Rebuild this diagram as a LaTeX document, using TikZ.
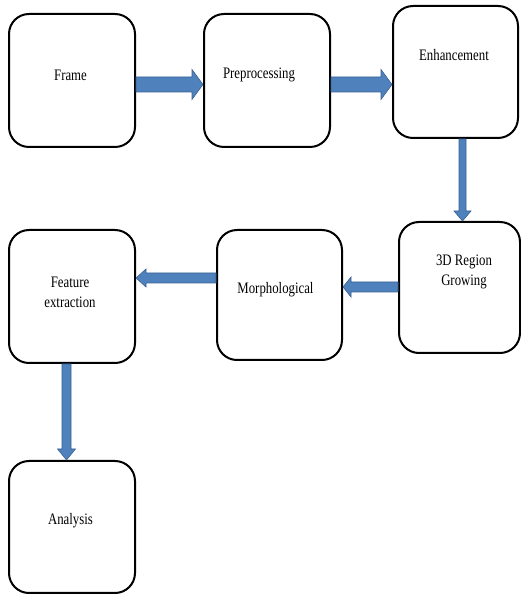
\documentclass[tikz,border=0pt]{standalone}
\usepackage{fontspec}
\setmainfont[FakeStretch=0.8]{Liberation Serif}
\usetikzlibrary{calc}
\definecolor{arrowfill}{HTML}{4F81BD}
\definecolor{arrowedge}{HTML}{3A6194}
\tikzset{
  box/.style={draw=black, line width=2pt, rounded corners=20pt, fill=white, inner sep=0pt},
  lbl/.style={font=\fontsize{16}{20}\selectfont, align=center, inner sep=0pt},
  barrow/.style={fill=arrowfill, draw=arrowedge, line width=0.6pt, line join=miter}
}
% horizontal block arrow: #1 start, #2 end (x only), #3 half shaft, #4 half head, #5 head length
\newcommand{\harrow}[5]{%
  \path[barrow] let \p1=#1, \p2=#2, \n1={sign(\x2-\x1)} in
    (\x1,\y1+#3) -- (\x2-\n1*#5,\y1+#3) -- (\x2-\n1*#5,\y1+#4) -- (\x2,\y1)
    -- (\x2-\n1*#5,\y1-#4) -- (\x2-\n1*#5,\y1-#3) -- (\x1,\y1-#3) -- cycle;}
% vertical block arrow
\newcommand{\varrow}[5]{%
  \path[barrow] let \p1=#1, \p2=#2, \n1={sign(\y2-\y1)} in
    (\x1+#3,\y1) -- (\x1+#3,\y2-\n1*#5) -- (\x1+#4,\y2-\n1*#5) -- (\x1,\y2)
    -- (\x1-#4,\y2-\n1*#5) -- (\x1-#3,\y2-\n1*#5) -- (\x1-#3,\y1) -- cycle;}
\begin{document}
\begin{tikzpicture}[x=1pt,y=1pt]
\useasboundingbox (0,0) rectangle (521,595);
% boxes
\node[box, minimum width=126pt, minimum height=133pt] (frame) at (72,514.5) {};
\node[box, minimum width=126pt, minimum height=133pt] (pre) at (267,514.5) {};
\node[box, minimum width=125pt, minimum height=132pt] (enh) at (455.5,523) {};
\node[box, minimum width=121pt, minimum height=131pt] (grow) at (459.5,307.5) {};
\node[box, minimum width=125pt, minimum height=130pt] (morph) at (279.5,300) {};
\node[box, minimum width=126pt, minimum height=133pt] (feat) at (72,298.5) {};
\node[box, minimum width=126pt, minimum height=132pt] (ana) at (72,68) {};
% labels
\node[lbl] (frame-t) at (70.5,520) {Frame};
\node[lbl] (pre-t) at (259,520) {Preprocessing};
\node[lbl] (enh-t) at (454,540) {Enhancement};
\node[lbl] (grow-t) at (464,323) {3D Region\\Growing};
\node[lbl] (morph-t) at (275.5,305) {Morphological};
\node[lbl] (feat-t) at (70,303) {Feature\\extraction};
\node[lbl] (ana-t) at (70.5,74) {Analysis};
% arrows
\harrow{($(frame.east)+(0,-4)$)}{(pre.west)}{7.5}{15}{11}
\harrow{($(pre.east)+(0,-4)$)}{(enh.west)}{7.5}{15}{11}
\varrow{($(enh.south)+(7,0)$)}{(grow.north)}{3.5}{8.5}{10}
\harrow{($(grow.west)+(0,0.5)$)}{(morph.east)}{5}{10}{8}
\harrow{($(morph.west)+(0,17)$)}{(feat.east)}{5}{9}{10}
\varrow{($(feat.south)+(-5.5,0)$)}{(ana.north)}{4.5}{9}{11}
\end{tikzpicture}
\end{document}
